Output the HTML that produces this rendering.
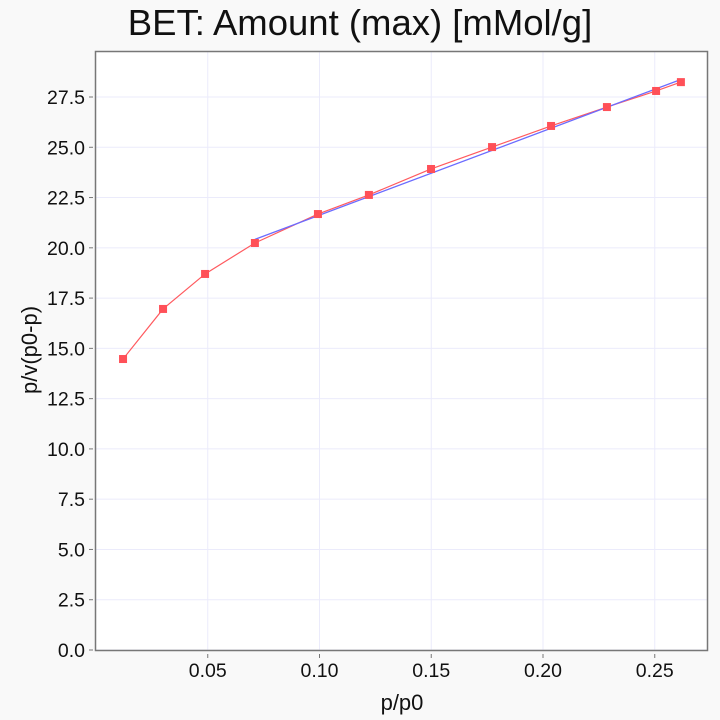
<!DOCTYPE html>
<html><head><meta charset="utf-8"><style>
html,body{margin:0;padding:0;background:#f9f9f9;font-family:"Liberation Sans",sans-serif;overflow:hidden}
svg{display:block}
svg text{font-family:"Liberation Sans",sans-serif;fill:#111}
</style></head><body>
<svg id="c" width="720" height="720">
<rect x="0" y="0" width="720" height="720" fill="#f9f9f9"/>
<text x="360" y="35" font-size="36.5" text-anchor="middle">BET: Amount (max) [mMol/g]</text>
</svg>
<script>
const xVals=[0.0121,0.0300,0.0488,0.0711,0.0993,0.1221,0.1499,0.1772,0.2036,0.2286,0.2506,0.2617];
const yVals=[14.47,16.96,18.70,20.24,21.68,22.63,23.92,25.01,26.06,27.00,27.80,28.24];
const fitX=[0.0711,0.2617];
const fitY=[20.42,28.37];
const xTicks=[0.05,0.10,0.15,0.20,0.25];
const yTicks=[0,2.5,5,7.5,10,12.5,15,17.5,20,22.5,25,27.5];
const L=96,R=708,T=52,B=650;
const sx=v=>L+v*2235;
const sy=v=>B-v*(553/27.5);
const svg=document.getElementById('c');
const NS='http://www.w3.org/2000/svg';
function mk(t,a,p){const e=document.createElementNS(NS,t);for(const k in a)e.setAttribute(k,a[k]);(p||svg).appendChild(e);return e;}
const plot=mk('rect',{x:L,y:T,width:R-L,height:B-T,fill:'#fff'});


xTicks.forEach(v=>{
 const g=mk('line',{x1:sx(v),x2:sx(v),y1:T,y2:B,stroke:'#ebebfb','stroke-width':1});
 
 
 const t=mk('line',{x1:sx(v),x2:sx(v),y1:654,y2:658,stroke:'#777'});
 
 
 const l=mk('text',{x:sx(v),y:677,'font-size':19.5,'text-anchor':'middle'});
 l.textContent=v.toFixed(2);
 
 
});
yTicks.forEach(v=>{
 const g=mk('line',{x1:L,x2:R,y1:sy(v),y2:sy(v),stroke:'#ebebfb','stroke-width':1});
 
 
 const t=mk('line',{x1:89,x2:93,y1:sy(v),y2:sy(v),stroke:'#777'});
 
 
 const l=mk('text',{x:85,y:sy(v)+7,'font-size':19.5,'text-anchor':'end'});
 l.textContent=v.toFixed(1);
 
 
});
const fr=mk('rect',{x:L-0.5,y:T-0.5,width:R-L,height:B-T+1,fill:'none',stroke:'#777','stroke-width':1.5});


const dl=mk('polyline',{points:xVals.map((x,i)=>sx(x)+','+sy(yVals[i])).join(' '),fill:'none',stroke:'#ff5a5f','stroke-width':1.2});


const fl=mk('polyline',{points:fitX.map((x,i)=>sx(x)+','+sy(fitY[i])).join(' '),fill:'none',stroke:'#6b6bff','stroke-width':1.3});


xVals.forEach((x,i)=>{
 const p=mk('rect',{x:sx(x)-4,y:sy(yVals[i])-4,width:8,height:8,fill:'#ff5058'});
 
 
});
const xt=mk('text',{x:402,y:710,'font-size':22,'text-anchor':'middle'});
xt.textContent='p/p0';


const yt=mk('text',{x:0,y:0,'font-size':22,'text-anchor':'middle',transform:'translate(37,350) rotate(-90)'});
yt.textContent='p/v(p0-p)';


</script>
</body></html>
